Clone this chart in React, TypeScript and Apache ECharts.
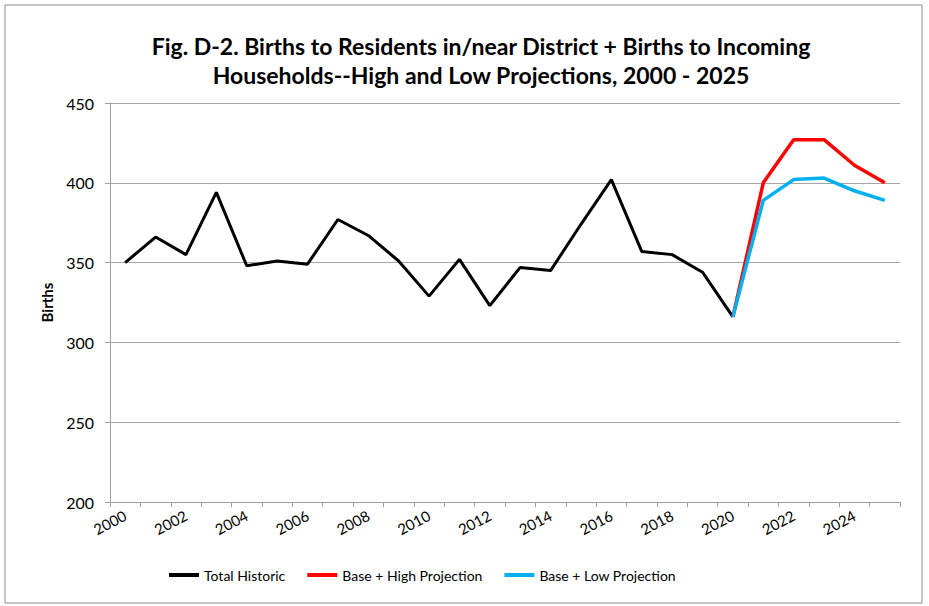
import React, { useEffect, useRef } from "react";
import * as echarts from "echarts";

const years = [
  "2000", "2001", "2002", "2003", "2004", "2005", "2006", "2007", "2008", "2009",
  "2010", "2011", "2012", "2013", "2014", "2015", "2016", "2017", "2018", "2019",
  "2020", "2021", "2022", "2023", "2024", "2025",
];

const totalHistoric = [
  350, 366, 355, 394, 348, 351, 349, 377, 367, 351,
  329, 352, 323, 347, 345, 374, 402, 357, 355, 344, 316,
];

const highProjection = [316, 400, 427, 427, 411, 400];
const lowProjection = [316, 389, 402, 403, 395, 389];

const yTicks = { min: 200, max: 450, interval: 50 };

const titleText =
  "Fig. D-2. Births to Residents in/near District + Births to Incoming\nHouseholds--High and Low Projections, 2000 - 2025";

const FONT = "Lato, 'Noto Sans', sans-serif";

function pad(arr: number[], offset: number): (number | null)[] {
  const out: (number | null)[] = years.map(() => null);
  arr.forEach((v, i) => {
    out[i + offset] = v;
  });
  return out;
}

export default function App() {
  const ref = useRef<HTMLDivElement>(null);
  useEffect(() => {
    if (!ref.current) return;
    const chart = echarts.init(ref.current, null, { renderer: "svg" });
    const projOffset = years.indexOf("2020");
    chart.setOption({
      animation: false,
      backgroundColor: "#ffffff",
      title: {
        text: titleText,
        left: 476,
        textAlign: "center",
        top: 26,
        textStyle: {
          fontFamily: FONT,
          fontSize: 23,
          fontWeight: "bold",
          color: "#000",
          lineHeight: 29,
        },
      },
      graphic: [
        {
          type: "rect",
          shape: { x: 5, y: 5, width: 917, height: 598 },
          style: { fill: "none", stroke: "#8c8c8c", lineWidth: 1 },
          silent: true,
        },
      ],
      legend: {
        bottom: 19,
        left: 164,
        itemWidth: 30,
        itemHeight: 4,
        itemGap: 22,
        icon: "rect",
        textStyle: { fontFamily: FONT, fontSize: 14, color: "#000" },
        data: ["Total Historic", "Base + High Projection", "Base + Low Projection"],
      },
      grid: { left: 110, right: 29, top: 103, bottom: 104 },
      xAxis: {
        type: "category",
        data: years,
        boundaryGap: true,
        axisLine: { lineStyle: { color: "#a0a0a0", width: 1 } },
        axisTick: { show: true, interval: 0, length: 5, lineStyle: { color: "#a0a0a0" } },
        axisLabel: {
          interval: 1,
          rotate: 28,
          fontFamily: FONT,
          fontSize: 15,
          color: "#000",
          margin: 12,
        },
      },
      yAxis: {
        type: "value",
        min: yTicks.min,
        max: yTicks.max,
        interval: yTicks.interval,
        name: "Births",
        nameLocation: "middle",
        nameGap: 56,
        nameTextStyle: { fontFamily: FONT, fontSize: 15, fontWeight: "bold", color: "#000" },
        axisLine: { show: true, lineStyle: { color: "#a0a0a0", width: 1 } },
        axisTick: { show: true, length: 5, lineStyle: { color: "#a0a0a0" } },
        splitLine: { show: true, lineStyle: { color: "#a6a6a6", width: 1 } },
        axisLabel: { fontFamily: FONT, fontSize: 16, color: "#000", margin: 16 },
      },
      series: [
        {
          name: "Total Historic",
          type: "line",
          data: pad(totalHistoric, 0),
          showSymbol: false,
          symbol: "none",
          lineStyle: { color: "#000000", width: 3 },
          itemStyle: { color: "#000000" },
        },
        {
          name: "Base + High Projection",
          type: "line",
          data: pad(highProjection, projOffset),
          showSymbol: false,
          symbol: "none",
          lineStyle: { color: "#ff0000", width: 3.5 },
          itemStyle: { color: "#ff0000" },
        },
        {
          name: "Base + Low Projection",
          type: "line",
          data: pad(lowProjection, projOffset),
          showSymbol: false,
          symbol: "none",
          lineStyle: { color: "#00b0f0", width: 3.5 },
          itemStyle: { color: "#00b0f0" },
        },
      ],
    });
    return () => chart.dispose();
  }, []);
  return (
    <div
      ref={ref}
      style={{ position: "fixed", left: 0, top: 0, width: 929, height: 606 }}
    />
  );
}
